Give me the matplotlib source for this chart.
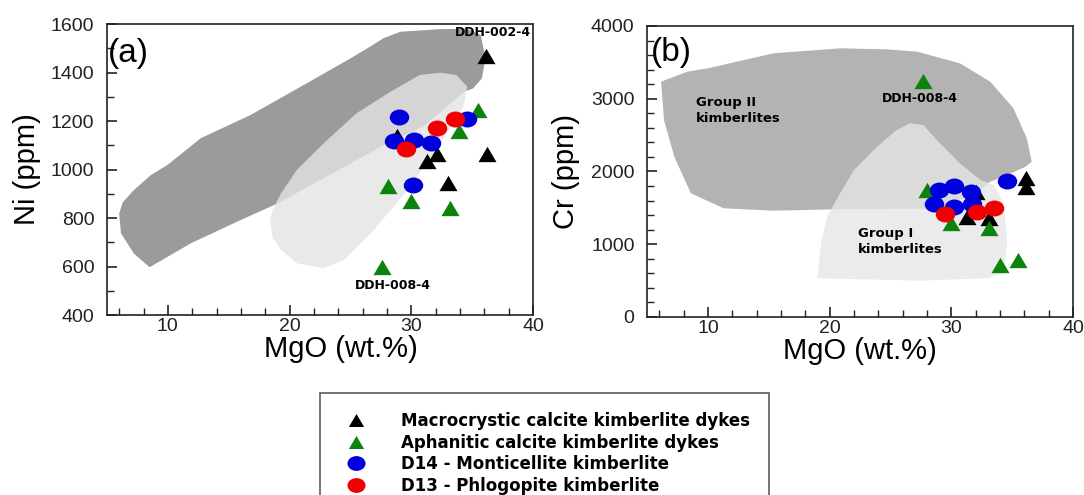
import numpy as np
import matplotlib
matplotlib.use("Agg")
import matplotlib.pyplot as plt
from matplotlib.path import Path
from matplotlib.transforms import Affine2D
from matplotlib.lines import Line2D
from matplotlib.ticker import MultipleLocator

# --- Ni vs MgO samples ---
ni_black_mgo = [36.1, 36.2, 33.0, 31.3, 32.1, 28.8]
ni_black = [1470, 1065, 945, 1035, 1065, 1140]
ni_green_mgo = [35.5, 33.9, 28.1, 30.0, 33.2, 27.6]
ni_green = [1245, 1160, 930, 870, 840, 600]
ni_blue_mgo = [29.0, 28.6, 30.2, 31.6, 34.6, 30.1]
ni_blue = [1218, 1118, 1120, 1108, 1208, 935]
ni_red_mgo = [29.6, 32.1, 33.6]
ni_red = [1083, 1170, 1207]

# --- Cr vs MgO samples ---
cr_black_mgo = [36.1, 36.1, 32.0, 31.3, 33.1]
cr_black = [1905, 1790, 1720, 1380, 1355]
cr_green_mgo = [27.7, 28.0, 30.0, 33.1, 34.0, 35.5]
cr_green = [3250, 1745, 1290, 1220, 715, 785]
cr_blue_mgo = [34.6, 29.0, 30.2, 31.6, 28.6, 30.2, 31.7]
cr_blue = [1875, 1750, 1800, 1720, 1560, 1515, 1560]
cr_red_mgo = [29.5, 32.1, 33.5]
cr_red = [1415, 1445, 1505]

# kimberlite fields (MgO, Ni)
ni_grp2_mgo = [8.5, 7.2, 6.15, 6.0, 6.3, 7.2, 8.6, 10.0, 12.7, 16.8, 20.9, 25.0, 26.4, 27.7,
               29.1, 32.4, 34.6, 35.7, 36.1, 35.8, 35.1, 34.3, 31.0, 28.3, 25.5, 22.8,
               19.1, 16.0, 11.9]
ni_grp2 = [597, 654, 737, 819, 865, 915, 977, 1020, 1129, 1225, 1341, 1458, 1500, 1541,
           1568, 1579, 1580, 1555, 1459, 1376, 1335, 1320, 1177, 1115, 1039, 964,
           862, 792, 696]
ni_grp1_mgo = [18.4, 18.6, 19.3, 20.6, 22.8, 24.5, 26.9, 29.7, 32.4, 34.3, 34.6, 33.7,
               32.4, 30.7, 28.3, 25.5, 22.8, 20.6, 19.3, 18.6]
ni_grp1 = [790, 720, 668, 613, 593, 627, 750, 915, 1108, 1259, 1341, 1390,
           1399, 1390, 1321, 1232, 1108, 998, 902, 833]

# kimberlite fields (MgO, Cr)
cr_grp2_mgo = [6.15, 8.3, 10.0, 15.4, 20.9, 24.7, 27.2, 30.7, 33.2, 35.1, 36.2, 36.6,
               36.1, 34.6, 33.2, 32.0, 29.0, 20.4, 15.4, 11.3, 8.6, 7.25, 6.4]
cr_grp2 = [3234, 3372, 3418, 3625, 3693, 3679, 3647, 3487, 3234, 2869, 2456, 2135,
           2066, 1952, 1860, 1700, 1490, 1480, 1461, 1494, 1700, 2200, 2700]
cr_grp1_mgo = [19.0, 19.3, 19.8, 20.7, 22.0, 23.9, 25.5, 26.6, 27.7, 28.8, 30.7, 32.4,
               33.5, 34.3, 34.6, 34.3, 32.9, 27.5]
cr_grp1 = [532, 1013, 1379, 1654, 2021, 2341, 2570, 2662, 2639, 2433, 2112, 1883,
           1814, 1563, 1013, 600, 532, 500]

labels = ["Macrocrystic calcite kimberlite dykes",
          "Aphanitic calcite kimberlite dykes",
          "D14 - Monticellite kimberlite",
          "D13 - Phlogopite kimberlite"]

GREEN = "#0c840c"
BLUE = "#0000dd"
RED = "#f00000"

tri = Path([(0, 0.85), (-1, -0.85), (1, -0.85), (0, 0.85)],
           [Path.MOVETO, Path.LINETO, Path.LINETO, Path.CLOSEPOLY])
oval = Path.unit_circle().transformed(Affine2D().scale(1.0, 0.82))

plt.rcParams['font.family'] = ['Liberation Sans', 'DejaVu Sans']

fig = plt.figure(figsize=(10.84, 4.95), dpi=100)
axa = fig.add_axes([0.0987, 0.3636, 0.393, 0.5879])
axb = fig.add_axes([0.5969, 0.3596, 0.393, 0.5879])


def samples(ax, bk, bkv, gr, grv, bl, blv, rd, rdv):
    ax.plot(bk, bkv, ls='none', marker=tri, ms=13, color='black', mec='none', zorder=5)
    ax.plot(gr, grv, ls='none', marker=tri, ms=13, color=GREEN, mec='none', zorder=5)
    ax.plot(bl, blv, ls='none', marker=oval, ms=14, color=BLUE, mec='none', zorder=6)
    ax.plot(rd, rdv, ls='none', marker=oval, ms=14, color=RED, mec='none', zorder=7)


def style(ax, minor_y):
    ax.set_xlim(5, 40)
    ax.xaxis.set_major_locator(MultipleLocator(10))
    ax.xaxis.set_minor_locator(MultipleLocator(2))
    ax.yaxis.set_minor_locator(MultipleLocator(minor_y))
    ax.tick_params(which='both', direction='in', top=False, right=False,
                   labelsize=14, colors='#222222')
    ax.tick_params(which='major', length=7, width=1.2)
    ax.tick_params(axis='y', which='major', pad=9)
    ax.tick_params(axis='x', which='major', pad=2)
    ax.tick_params(which='minor', length=5, width=1.0)
    for s in ax.spines.values():
        s.set_linewidth(1.2)
        s.set_color('#222222')


# (a) Ni
axa.fill(ni_grp2_mgo, ni_grp2, color='#9b9b9b', lw=0, zorder=1)
axa.fill(ni_grp1_mgo, ni_grp1, color='#e4e4e4', alpha=0.8, lw=0, zorder=2)
samples(axa, ni_black_mgo, ni_black, ni_green_mgo, ni_green,
        ni_blue_mgo, ni_blue, ni_red_mgo, ni_red)
axa.set_ylim(400, 1600)
axa.yaxis.set_major_locator(MultipleLocator(200))
style(axa, 100)
axa.set_ylabel('Ni (ppm)', fontsize=21)
axa.set_xlabel('MgO (wt.%)', fontsize=21)
axa.xaxis.set_label_coords(0.55, -0.068)
axa.yaxis.set_label_coords(-0.155, 0.5)
axa.text(0.003, 0.9, '(a)', transform=axa.transAxes, fontsize=24, va='center')
axa.text(36.7, 1563, 'DDH-002-4', fontsize=9, fontweight='bold',
         family='DejaVu Sans', ha='center', va='center', zorder=8)
axa.text(28.5, 520, 'DDH-008-4', fontsize=9, fontweight='bold',
         family='DejaVu Sans', ha='center', va='center', zorder=8)

# (b) Cr
axb.fill(cr_grp2_mgo, cr_grp2, color='#b3b3b3', lw=0, zorder=1)
axb.fill(cr_grp1_mgo, cr_grp1, color='#e6e6e6', alpha=0.8, lw=0, zorder=2)
samples(axb, cr_black_mgo, cr_black, cr_green_mgo, cr_green,
        cr_blue_mgo, cr_blue, cr_red_mgo, cr_red)
axb.set_ylim(0, 4000)
axb.yaxis.set_major_locator(MultipleLocator(1000))
style(axb, 200)
axb.set_ylabel('Cr (ppm)', fontsize=21)
axb.set_xlabel('MgO (wt.%)', fontsize=21)
axb.xaxis.set_label_coords(0.5, -0.068)
axb.yaxis.set_label_coords(-0.157, 0.5)
axb.text(0.01, 0.91, '(b)', transform=axb.transAxes, fontsize=24, va='center')
axb.text(27.4, 3006, 'DDH-008-4', fontsize=9, fontweight='bold',
         family='DejaVu Sans', ha='center', va='center', zorder=8)
axb.text(9.0, 2832, 'Group II\nkimberlites', fontsize=9.5, fontweight='bold',
         family='DejaVu Sans', ha='left', va='center', linespacing=1.3, zorder=8)
axb.text(22.3, 1035, 'Group I\nkimberlites', fontsize=9.5, fontweight='bold',
         family='DejaVu Sans', ha='left', va='center', linespacing=1.3, zorder=8)

handles = [Line2D([], [], ls='none', marker=tri, ms=11, color='black', mec='none'),
           Line2D([], [], ls='none', marker=tri, ms=11, color=GREEN, mec='none'),
           Line2D([], [], ls='none', marker=oval, ms=13, color=BLUE, mec='none'),
           Line2D([], [], ls='none', marker=oval, ms=13, color=RED, mec='none')]
leg = fig.legend(handles, labels, loc='upper left',
                 bbox_to_anchor=(320 / 1084, 1 - 392.7 / 495), borderaxespad=0,
                 prop={'family': 'DejaVu Sans', 'weight': 'bold', 'size': 12},
                 frameon=True, fancybox=False, edgecolor='#333333',
                 borderpad=1.15, handlelength=2.0, handletextpad=1.7,
                 labelspacing=0.22)
leg.get_frame().set_linewidth(1.2)

fig.savefig('out.png', dpi=100)
